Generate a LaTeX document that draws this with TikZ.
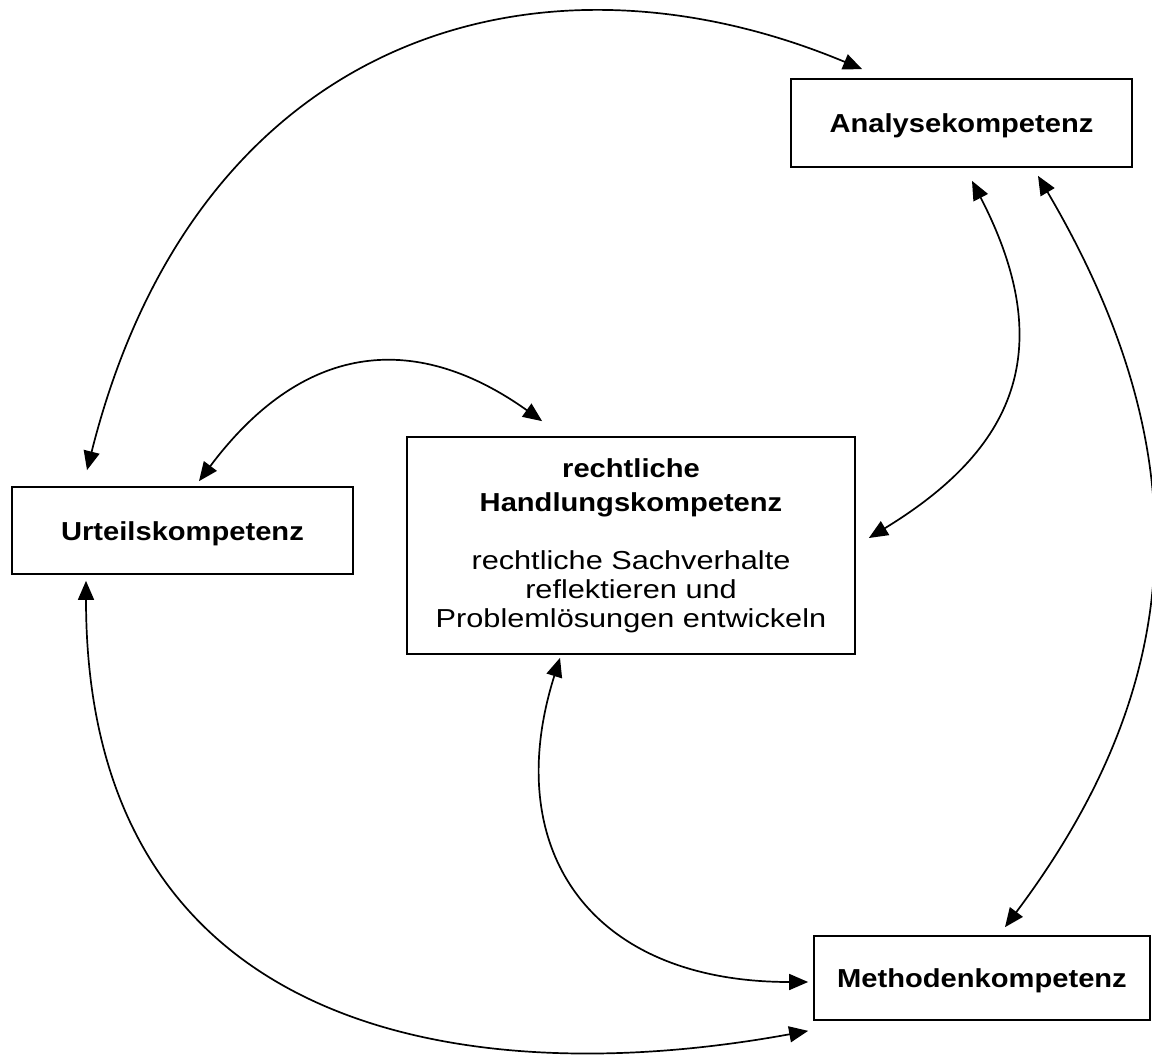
\documentclass[tikz,border=0pt]{standalone}
\usepackage{fontspec}
\setmainfont{Liberation Sans}[FakeStretch=1.18,BoldFeatures={FakeStretch=1.12}]
\usetikzlibrary{arrows.meta,calc}
\begin{document}
\begin{tikzpicture}[x=1pt,y=-1pt,
  box/.style={draw, line width=1.7pt, inner sep=0pt, font=\fontsize{26}{29}\selectfont\bfseries, text height=19pt, text depth=0pt},
  bigbox/.style={draw, line width=1.7pt, inner sep=0pt, align=center, font=\fontsize{26}{29}\selectfont},
  link/.style={line width=1.7pt, {Triangle[length=19pt,width=16pt]}-{Triangle[length=19pt,width=16pt]}}]
\fill[white] (0,0) rectangle (1152,1055);
\useasboundingbox (0,0) rectangle (1152,1055);

\node[box, minimum width=341pt, minimum height=88pt] (anal) at (961.5,123) {Analysekompetenz};
\node[box, minimum width=341pt, minimum height=87pt] (urt) at (182.5,530.5) {Urteilskompetenz};
\node[bigbox, minimum width=448pt, minimum height=217pt] (hand) at (631,545.5)
  {\textbf{rechtliche}\\[5pt]\textbf{Handlungskompetenz}\\[29pt]rechtliche Sachverhalte\hspace{8pt}\\reflektieren und\hspace{22pt}\\Problemlösungen entwickeln\hspace{14pt}};
\node[box, minimum width=336pt, minimum height=84pt] (meth) at (982,978) {Methodenkompetenz};

% Urteil <-> Analyse (top arc)
\draw[link] ($(urt.north)+(-95.5,-16)$) .. controls +(110,-437) and +(-323,-135) .. ($(anal.north west)+(72,-9)$);
% Urteil <-> Handlung
\draw[link] ($(urt.north)+(16.5,-5)$) .. controls +(108,-144) and +(-122,-87) .. ($(hand.north west)+(136,-15)$);
% Analyse <-> Handlung
\draw[link] ($(anal.south)+(10.5,13)$) .. controls +(92,178) and +(136,-83) .. ($(hand.east)+(13,-7.5)$);
% Analyse <-> Methoden
\draw[link] ($(anal.south)+(76.5,8)$) .. controls +(167,284) and +(180,-240) .. ($(meth.north)+(23,-8)$);
% Handlung <-> Methoden
\draw[link] ($(hand.south)+(-71,3)$) .. controls +(-60,190) and +(-220,0) .. ($(meth.west)+(-5,4)$);
% Urteil <-> Methoden (bottom arc)
\draw[link] ($(urt.south)+(-96.5,6)$) .. controls +(0,460) and +(-333,61) .. ($(meth.south west)+(-5,10)$);
\end{tikzpicture}
\end{document}
